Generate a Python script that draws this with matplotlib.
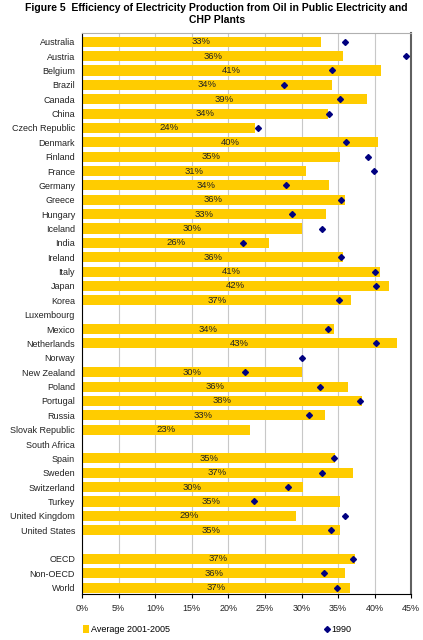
import numpy as np
import matplotlib.pyplot as plt
from matplotlib.lines import Line2D
from matplotlib.patches import Patch

# Data (efficiency in %, None = no data)
countries = ["Australia", "Austria", "Belgium", "Brazil", "Canada", "China",
             "Czech Republic", "Denmark", "Finland", "France", "Germany",
             "Greece", "Hungary", "Iceland", "India", "Ireland", "Italy",
             "Japan", "Korea", "Luxembourg", "Mexico", "Netherlands", "Norway",
             "New Zealand", "Poland", "Portugal", "Russia", "Slovak Republic",
             "South Africa", "Spain", "Sweden", "Switzerland", "Turkey",
             "United Kingdom", "United States", "", "OECD", "Non-OECD", "World"]
avg_2001_2005 = [32.6, 35.7, 40.8, 34.1, 38.9, 33.6, 23.7, 40.4, 35.2, 30.6,
                 33.8, 35.9, 33.4, 30.0, 25.6, 35.7, 40.7, 41.9, 36.8, None,
                 34.4, 43.0, None, 30.0, 36.4, 38.2, 33.2, 22.9, None, 34.6,
                 37.0, 30.2, 35.3, 29.2, 35.3, None, 37.3, 36.0, 36.6]
y1990 = [36.0, 44.3, 34.2, 27.6, 35.2, 33.7, 24.0, 36.1, 39.1, 39.9,
         27.9, 35.4, 28.7, 32.8, 22.0, 35.4, 40.0, 40.2, 35.1, None,
         33.6, 40.2, 30.0, 22.3, 32.5, 38.0, 31.0, None, None, 34.4,
         32.8, 28.1, 23.5, 36.0, 34.0, None, 37.0, 33.0, 34.8]
xticks = [0, 5, 10, 15, 20, 25, 30, 35, 40, 45]

plt.rcParams['font.family'] = ['Liberation Sans', 'DejaVu Sans']

fig = plt.figure(figsize=(4.23, 6.40), dpi=100)
ax = fig.add_axes([0.1939, 0.0714, 0.7785, 0.8775])

pos = np.arange(len(countries))
bar_vals = np.array([np.nan if v is None else v for v in avg_2001_2005])
dia_vals = np.array([np.nan if v is None else v for v in y1990])

bars = ax.barh(pos, np.nan_to_num(bar_vals), height=0.7, color='#FFCC00',
               zorder=2)
labels = ["" if np.isnan(v) else f"{v:.0f}%" for v in bar_vals]
ax.bar_label(bars, labels=labels, label_type='center', fontsize=6.8,
             color='#222222')
ax.plot(dia_vals, pos, linestyle='none', marker='D', markersize=3.0,
        color='#000080', zorder=3)

ax.set_xlim(0, 45)
ax.set_ylim(38.46, -0.63)
ax.set_xticks(xticks)
ax.set_xticklabels([f"{t}%" for t in xticks], fontsize=6.5, color='#222222')
ax.set_yticks(pos)
ax.set_yticklabels(countries, fontsize=6.5, color='#222222')
ax.tick_params(axis='y', length=0, pad=5)
ax.tick_params(axis='x', length=3, width=0.8, direction='out', pad=4)
ax.grid(axis='x', color='#C8C8C8', linewidth=0.8, zorder=0)
ax.set_axisbelow(True)

ax.spines['left'].set_color('#000000')
ax.spines['bottom'].set_color('#000000')
ax.spines['top'].set_color('#B0B0B0')
ax.spines['right'].set_color('#606060')
ax.spines['right'].set_linewidth(1.5)

fig.suptitle("Figure 5  Efficiency of Electricity Production from Oil in Public Electricity and\nCHP Plants",
             x=0.512, y=0.995, fontsize=7.5, fontweight='bold',
             linespacing=1.2)

handles = [Patch(facecolor='#FFCC00', edgecolor='none'),
           Line2D([], [], linestyle='none', marker='D', markersize=3.0,
                  color='#000080')]
fig.legend(handles, ["Average 2001-2005", "1990"], ncol=2,
           loc='center left', bbox_to_anchor=(0.185, 0.016), frameon=False,
           fontsize=6.5, handlelength=0.7, handletextpad=0.2,
           columnspacing=17.0, borderpad=0, handleheight=0.9)

fig.savefig("out.png", dpi=100)
